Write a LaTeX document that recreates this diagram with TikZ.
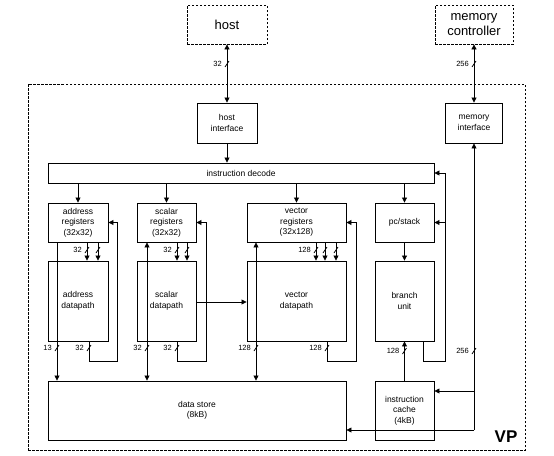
\documentclass[tikz,border=0pt]{standalone}
\usepackage{fontspec}
\setmainfont{Liberation Sans}
\usetikzlibrary{arrows.meta,calc}
\newcommand\bustick[2]{\draw[ln] (#1-2,#2+3) -- (#1+2,#2-3);}
\newcommand\buslabel[4]{\bustick{#1}{#2}\node[lbl] (#4) at (#1-4,#2) {#3};}
\begin{document}
\begin{tikzpicture}[x=1pt,y=-1pt,
  box/.style={draw, line width=0.9pt, inner sep=0pt, align=center, font=\fontsize{8.5}{10.5}\selectfont},
  outbox/.style={draw, dash pattern=on 2.5pt off 1.5pt, line width=0.8pt, inner sep=0pt, align=center, font=\fontsize{13}{14.5}\selectfont},
  arr/.style={-{Triangle[length=5pt,width=5pt]}},
  darr/.style={{Triangle[length=5pt,width=5pt]}-{Triangle[length=5pt,width=5pt]}},
  ln/.style={line width=0.8pt},
  lbl/.style={font=\fontsize{7.5}{8}\selectfont, anchor=east, inner sep=1pt},
]
\useasboundingbox (0,0) rectangle (554,455);

% outer dashed frame
\node[outbox, minimum width=497pt, minimum height=366pt] (vp) at (276.5,267) {};
\node[font=\bfseries\fontsize{17}{18}\selectfont, inner sep=0pt] (vplabel) at (506,437) {VP};

% external boxes
\node[outbox, minimum width=80pt, minimum height=39pt] (host) at (227,24.5) {host};
\node[outbox, minimum width=78pt, minimum height=39pt] (memctrl) at (474,24.5) {memory\\controller};

% interfaces
\node[box, minimum width=60pt, minimum height=40pt] (hostif) at (227,123) {host\\interface};
\node[box, minimum width=57pt, minimum height=40pt] (memif) at (474,123) {memory\\interface};

% decode
\node[box, minimum width=386pt, minimum height=20pt] (decode) at (241,173) {};
\node[font=\fontsize{8.5}{10.5}\selectfont, inner sep=0pt] (decodetxt) at (241,173) {instruction decode};

% registers
\node[box, minimum width=60pt, minimum height=39pt] (addrreg) at (78,222.5) {address\\registers\\(32x32)};
\node[box, minimum width=59pt, minimum height=39pt] (scalreg) at (166.5,222.5) {scalar\\registers\\(32x32)};
\node[box, minimum width=99pt, minimum height=39pt] (vecreg) at (296.5,222.5) {vector\\registers\\(32x128)};
\node[box, minimum width=59pt, minimum height=39pt] (pc) at (404.5,222.5) {pc/stack};

% datapaths
\node[box, minimum width=60pt, minimum height=80pt] (addrdp) at (78,301) {address\\datapath};
\node[box, minimum width=59pt, minimum height=80pt] (scaldp) at (166.5,301) {scalar\\datapath};
\node[box, minimum width=99pt, minimum height=80pt] (vecdp) at (296.5,301) {vector\\datapath};
\node[box, minimum width=59pt, minimum height=80pt] (branch) at (404.5,301) {branch\\unit};

% stores
\node[box, minimum width=298pt, minimum height=59pt] (ds) at (197,410.5) {data store\\(8kB)};
\node[box, minimum width=59pt, minimum height=59pt] (icache) at (404.5,410.5) {instruction\\cache\\(4kB)};

% host / memory links
\draw[ln,darr] (host) -- (hostif);
\draw[ln,darr] (memctrl) -- (memif);
\draw[ln,arr] (hostif) -- (hostif.south |- decode.north);

% decode to units
\draw[ln,arr] (decode.south -| addrreg.north) -- (addrreg.north);
\draw[ln,arr] (decode.south -| scalreg.north) -- (scalreg.north);
\draw[ln,arr] (decode.south -| vecreg.north) -- (vecreg.north);
\draw[ln,arr] (decode.south -| pc.north) -- (pc.north);

% registers to datapaths
\draw[ln,arr] ([xshift=9pt]addrreg.south) -- ([xshift=9pt]addrdp.north);
\draw[ln,arr] ([xshift=20pt]addrreg.south) -- ([xshift=20pt]addrdp.north);
\draw[ln,arr] ([xshift=10.5pt]scalreg.south) -- ([xshift=10.5pt]scaldp.north);
\draw[ln,arr] ([xshift=20.5pt]scalreg.south) -- ([xshift=20.5pt]scaldp.north);
\draw[ln,arr] ([xshift=19.5pt]vecreg.south) -- ([xshift=19.5pt]vecdp.north);
\draw[ln,arr] ([xshift=28.5pt]vecreg.south) -- ([xshift=28.5pt]vecdp.north);
\draw[ln,arr] ([xshift=39.5pt]vecreg.south) -- ([xshift=39.5pt]vecdp.north);
\draw[ln,arr] (pc) -- (branch);

% register files to data store
\draw[ln,arr] ([xshift=-21pt]addrreg.south) -- ([xshift=-21pt]addrreg.south |- ds.north);
\draw[ln,darr] ([xshift=-19.5pt]scalreg.south) -- ([xshift=-19.5pt]scalreg.south |- ds.north);
\draw[ln,darr] ([xshift=-40.5pt]vecreg.south) -- ([xshift=-40.5pt]vecreg.south |- ds.north);

% feedback paths
\draw[ln,arr] ([xshift=11pt]addrdp.south) -- ++(0,20) -| ([xshift=9pt]addrreg.east) -- (addrreg.east);
\draw[ln,arr] ([xshift=10.5pt]scaldp.south) -- ++(0,20) -| ([xshift=10pt]scalreg.east) -- (scalreg.east);
\draw[ln,arr] ([xshift=30.5pt]vecdp.south) -- ++(0,20) -| ([xshift=10pt]vecreg.east) -- (vecreg.east);
\draw[ln,arr] ([xshift=18.5pt]branch.south) -- ++(0,20) -| ([xshift=11pt]decode.east) -- (decode.east);
\draw[ln,arr] ([xshift=11pt]pc.east) -- (pc.east);

% scalar to vector
\draw[ln,arr] ([yshift=-1pt]scaldp.east) -- ([yshift=-1pt]scaldp.east -| vecdp.west);

% instruction cache to branch unit
\draw[ln,arr] (icache) -- (branch);

% memory distribution
\coordinate (mcorner) at (474,430);
\coordinate (mtap) at (474,391);
\draw[ln,arr] (mcorner) -- (memif.south);
\draw[ln,arr] (mcorner) -- (mcorner -| ds.east);
\draw[ln,arr] (mtap) -- (mtap -| icache.east);

% bus width marks
\buslabel{227}{64}{32}{bw1}
\buslabel{474}{64}{256}{bw2}
\buslabel{87}{250}{32}{bw3}
\bustick{98}{250}
\buslabel{177}{250}{32}{bw4}
\bustick{187}{250}
\buslabel{316}{250}{128}{bw5}
\bustick{325}{250}
\bustick{336}{250}
\buslabel{57}{348}{13}{bw6}
\buslabel{89}{348}{32}{bw7}
\buslabel{147}{348}{32}{bw8}
\buslabel{177}{348}{32}{bw9}
\buslabel{256}{348}{128}{bw10}
\buslabel{327}{348}{128}{bw11}
\buslabel{404.5}{351}{128}{bw12}
\buslabel{474}{351}{256}{bw13}
\end{tikzpicture}
\end{document}
